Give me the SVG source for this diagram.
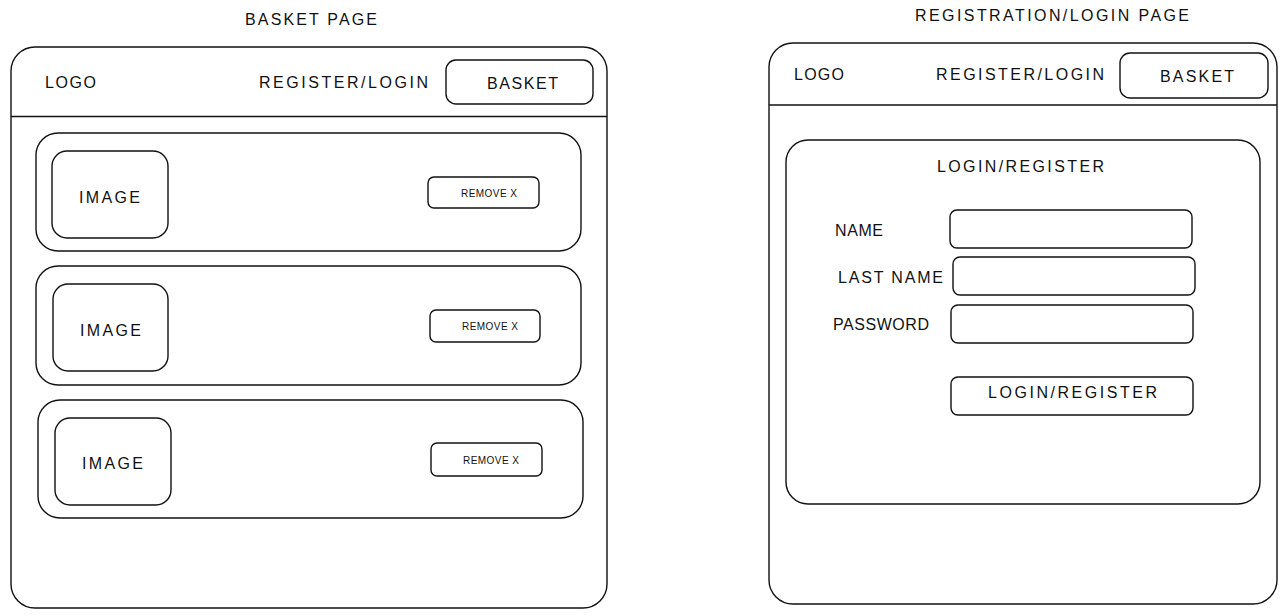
<svg xmlns="http://www.w3.org/2000/svg" width="1287" height="616" viewBox="0 0 1287 616">
<style>
.box{fill:#fff;stroke:#111;stroke-width:1.4}
.ln{stroke:#111;stroke-width:1.4}
text{font-family:"Liberation Sans","DejaVu Sans",sans-serif;font-size:16px;fill:#111;lengthAdjust:spacing}
.sm{font-size:10px}
</style>
<rect width="1287" height="616" fill="#fff"/>

<!-- LEFT: BASKET PAGE -->
<g id="basket-title"><text x="245" y="25" textLength="132" lengthAdjust="spacing">BASKET PAGE</text></g>
<g id="basket-page">
  <rect class="box" x="11" y="47" width="596" height="561" rx="24"/>
  <line class="ln" x1="11" y1="116.5" x2="607" y2="116.5"/>
</g>
<g id="basket-logo"><text x="45" y="88" textLength="51" lengthAdjust="spacing">LOGO</text></g>
<g id="basket-register-login"><text x="259" y="88" textLength="169" lengthAdjust="spacing">REGISTER/LOGIN</text></g>
<g id="basket-basket-btn">
  <rect class="box" x="446" y="60" width="147" height="44" rx="10"/>
  <text x="487" y="89" textLength="71" lengthAdjust="spacing">BASKET</text>
</g>

<g id="item-1">
  <rect class="box" x="36" y="133" width="545" height="118" rx="22"/>
  <g id="item-1-image">
    <rect class="box" x="52" y="151" width="116" height="87" rx="15"/>
    <text x="79" y="203" textLength="61" lengthAdjust="spacing">IMAGE</text>
  </g>
  <g id="item-1-remove">
    <rect class="box" x="428" y="177" width="111" height="31" rx="6"/>
    <text class="sm" x="461" y="197" textLength="56" lengthAdjust="spacing">REMOVE X</text>
  </g>
</g>

<g id="item-2">
  <rect class="box" x="36" y="266" width="545" height="119" rx="22"/>
  <g id="item-2-image">
    <rect class="box" x="53" y="284" width="115" height="87" rx="15"/>
    <text x="80" y="336" textLength="61" lengthAdjust="spacing">IMAGE</text>
  </g>
  <g id="item-2-remove">
    <rect class="box" x="430" y="310" width="110" height="32" rx="6"/>
    <text class="sm" x="462" y="330" textLength="56" lengthAdjust="spacing">REMOVE X</text>
  </g>
</g>

<g id="item-3">
  <rect class="box" x="38" y="400" width="545" height="118" rx="22"/>
  <g id="item-3-image">
    <rect class="box" x="55" y="418" width="116" height="87" rx="15"/>
    <text x="82" y="469" textLength="61" lengthAdjust="spacing">IMAGE</text>
  </g>
  <g id="item-3-remove">
    <rect class="box" x="431" y="443" width="111" height="33" rx="6"/>
    <text class="sm" x="463" y="464" textLength="56" lengthAdjust="spacing">REMOVE X</text>
  </g>
</g>

<!-- RIGHT: REGISTRATION/LOGIN PAGE -->
<g id="login-title"><text x="915" y="21" textLength="274" lengthAdjust="spacing">REGISTRATION/LOGIN PAGE</text></g>
<g id="login-page">
  <rect class="box" x="769" y="43" width="508" height="561" rx="24"/>
  <line class="ln" x1="769" y1="105" x2="1277" y2="105"/>
</g>
<g id="login-logo"><text x="794" y="80" textLength="50" lengthAdjust="spacing">LOGO</text></g>
<g id="login-register-login"><text x="936" y="80" textLength="168" lengthAdjust="spacing">REGISTER/LOGIN</text></g>
<g id="login-basket-btn">
  <rect class="box" x="1120" y="53" width="148" height="45" rx="10"/>
  <text x="1160" y="82" textLength="74" lengthAdjust="spacing">BASKET</text>
</g>

<g id="login-panel">
  <rect class="box" x="786" y="140" width="474" height="364" rx="22"/>
  <text x="937" y="172" textLength="167" lengthAdjust="spacing">LOGIN/REGISTER</text>
</g>
<g id="name-label"><text x="835" y="236" textLength="48" lengthAdjust="spacing">NAME</text></g>
<g id="name-field"><rect class="box" x="950" y="210" width="242" height="38" rx="7"/></g>
<g id="lastname-label"><text x="838" y="283" textLength="105" lengthAdjust="spacing">LAST NAME</text></g>
<g id="lastname-field"><rect class="box" x="953" y="257" width="242" height="38" rx="7"/></g>
<g id="password-label"><text x="833" y="330" textLength="96" lengthAdjust="spacing">PASSWORD</text></g>
<g id="password-field"><rect class="box" x="951" y="305" width="242" height="38" rx="7"/></g>
<g id="login-register-btn">
  <rect class="box" x="951" y="377" width="242" height="38" rx="7"/>
  <text x="988" y="398" textLength="169" lengthAdjust="spacing">LOGIN/REGISTER</text>
</g>
</svg>
